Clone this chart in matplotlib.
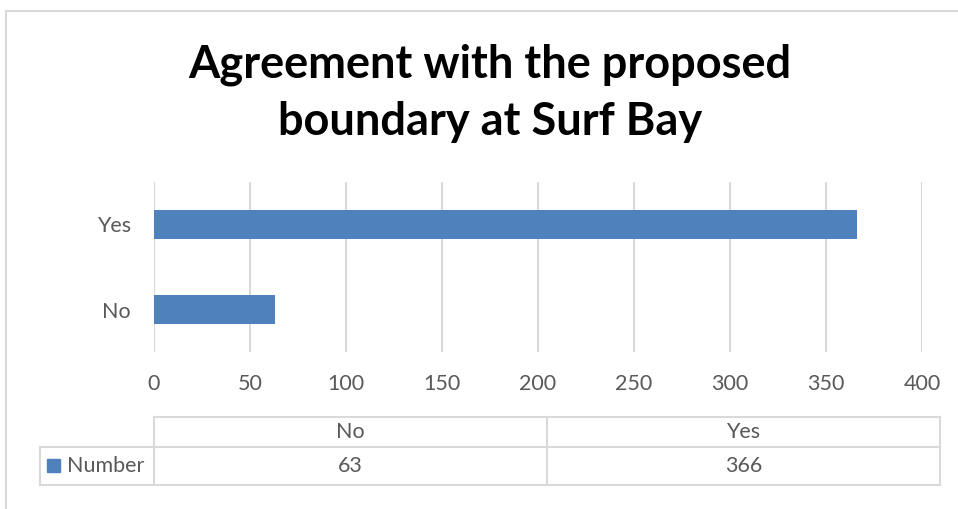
import matplotlib
matplotlib.use("Agg")
import matplotlib.pyplot as plt
from matplotlib.patches import Rectangle

categories = ["No", "Yes"]
values = [63, 366]
series_name = "Number"
x_ticks = [0, 50, 100, 150, 200, 250, 300, 350, 400]
title = "Agreement with the proposed\nboundary at Surf Bay"

BAR = "#4F81BD"
GRID = "#D9D9D9"
TXT = "#595959"
FONT = ["Lato", "DejaVu Sans"]
FS = 15.5

W, H = 958, 509
fig = plt.figure(figsize=(W / 100, H / 100), dpi=100)
fig.patch.set_facecolor("white")

# overlay axes in pixel coordinates for decorations
ov = fig.add_axes([0, 0, 1, 1], zorder=0)
ov.set_xlim(0, W)
ov.set_ylim(H, 0)
ov.axis("off")

# outer chart border
ov.plot([6, W], [11, 11], color=GRID, lw=1.5)
ov.plot([6, 6], [11, H], color=GRID, lw=1.5)

# main plot area
L, R, T, B = 154, 922, 182, 352
ax = fig.add_axes([L / W, 1 - B / H, (R - L) / W, (B - T) / H], zorder=1)
ax.patch.set_alpha(0)
ypos = list(range(len(categories)))
ax.barh(ypos, values, height=0.35, color=BAR, zorder=3)
ax.set_xlim(x_ticks[0], x_ticks[-1])
ax.set_ylim(-0.5, len(categories) - 0.5)
ax.set_xticks(x_ticks)
ax.set_xticklabels([str(t) for t in x_ticks], fontsize=FS, color=TXT, family=FONT)
ax.set_yticks(ypos)
ax.set_yticklabels(categories, fontsize=FS, color=TXT, family=FONT)
ax.tick_params(axis="both", length=0)
ax.tick_params(axis="x", pad=16)
ax.tick_params(axis="y", pad=16.5)
for s in ax.spines.values():
    s.set_visible(False)
ax.grid(axis="x", color=GRID, lw=1.5, zorder=0)

fig.text(490 / W, 1 - 93 / H, title, ha="center", va="center",
         fontsize=32.5, fontweight="bold", color="black", family=FONT,
         linespacing=1.45)

# data table
x0, x1, x2, x3 = 40, 154, 547, 940
y0, y1, y2 = 417, 447, 485
lw = 1.5
ov.plot([x1, x3], [y0, y0], color=GRID, lw=lw)
ov.plot([x0, x3], [y1, y1], color=GRID, lw=lw)
ov.plot([x0, x3], [y2, y2], color=GRID, lw=lw)
ov.plot([x0, x0], [y1, y2], color=GRID, lw=lw)
for xx in (x1, x2, x3):
    ov.plot([xx, xx], [y0, y2], color=GRID, lw=lw)

col_edges = [x1, x2, x3]
for i, (c, v) in enumerate(zip(categories, values)):
    cx = (col_edges[i] + col_edges[i + 1]) / 2
    ov.text(cx, (y0 + y1) / 2, c, ha="center", va="center", fontsize=FS,
            color=TXT, family=FONT)
    ov.text(cx, (y1 + y2) / 2, str(v), ha="center", va="center", fontsize=FS,
            color=TXT, family=FONT)

ov.add_patch(Rectangle((47, 459), 13, 13, color=BAR))
ov.text(67, (y1 + y2) / 2, series_name, ha="left", va="center", fontsize=FS,
        color=TXT, family=FONT)

fig.savefig("out.png", dpi=100, facecolor="white")
